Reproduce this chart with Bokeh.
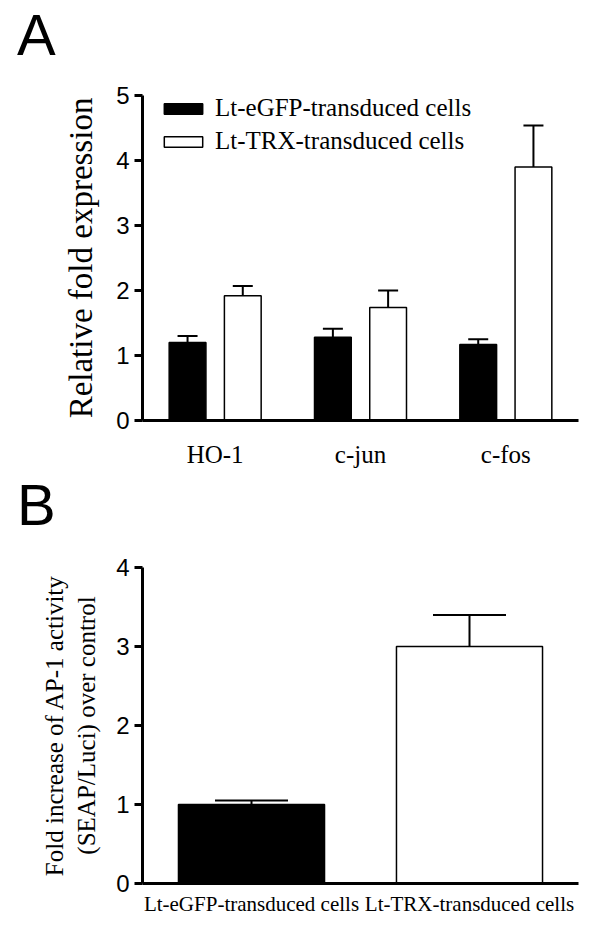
from bokeh.plotting import figure
from bokeh.models import (ColumnDataSource, FactorRange, Range1d, Whisker, TeeHead,
                          Legend, LegendItem, FixedTicker, Div)
from bokeh.transform import dodge
from bokeh.layouts import column
from bokeh.embed import file_html
from bokeh.resources import INLINE

# ---------------- data ----------------
genes = ["HO-1", "c-jun", "c-fos"]
egfp_mean = [1.20, 1.28, 1.17]
egfp_err = [0.10, 0.13, 0.08]
trx_mean = [1.92, 1.74, 3.90]
trx_err = [0.15, 0.26, 0.64]
series_names = ["Lt-eGFP-transduced cells", "Lt-TRX-transduced cells"]

groups_b = ["Lt-eGFP-transduced cells", "Lt-TRX-transduced cells"]
ap1_mean = [1.00, 3.00]
ap1_err = [0.05, 0.40]
fills_b = ["black", "white"]

SERIF = "Liberation Serif"
SANS = "Liberation Sans"


def style_axes(p, tick_size, xlab_size, xstandoff):
    p.xgrid.visible = False
    p.ygrid.visible = False
    p.outline_line_color = None
    for ax in (p.xaxis[0], p.yaxis[0]):
        ax.axis_line_width = 3
        ax.axis_line_color = "black"
        ax.minor_tick_line_color = None
    ya = p.yaxis[0]
    ya.major_tick_line_width = 3
    ya.major_tick_out = 8
    ya.major_tick_in = 0
    ya.major_label_text_font = SANS
    ya.major_label_text_font_size = tick_size
    ya.major_label_text_color = "black"
    ya.major_label_standoff = 5
    ya.axis_label_text_font = SERIF
    ya.axis_label_text_font_style = "normal"
    ya.axis_label_text_color = "black"
    xa = p.xaxis[0]
    xa.major_tick_line_color = None
    xa.major_tick_out = 0
    xa.major_tick_in = 0
    xa.major_label_text_font = SERIF
    xa.major_label_text_font_size = xlab_size
    xa.major_label_text_color = "black"
    xa.major_label_standoff = xstandoff


def panel_letter(letter):
    return Div(text=letter, width=600, height=69, margin=0,
               styles={"font-family": SANS, "font-size": "58px", "line-height": "69px",
                       "color": "black", "padding-left": "17px", "margin": "0"})


# ---------------- panel A ----------------
srcA = ColumnDataSource(dict(
    gene=genes,
    egfp=egfp_mean, egfp_up=[m + e for m, e in zip(egfp_mean, egfp_err)],
    trx=trx_mean, trx_up=[m + e for m, e in zip(trx_mean, trx_err)],
))

pA = figure(width=600, height=401, x_range=FactorRange(*genes, range_padding=0),
            y_range=Range1d(0, 5), output_backend="svg", toolbar_location=None,
            min_border_left=142, min_border_right=8, min_border_top=26,
            min_border_bottom=50)
pA.x_range.range_padding = 0

off = 0.19
bw = 0.253
r1 = pA.vbar(x=dodge("gene", -off, range=pA.x_range), top="egfp", width=bw, source=srcA,
             fill_color="black", line_color="black", line_width=1.5)
r2 = pA.vbar(x=dodge("gene", off, range=pA.x_range), top="trx", width=bw, source=srcA,
             fill_color="white", line_color="black", line_width=1.5)

for key, o in (("egfp", -off), ("trx", off)):
    w = Whisker(base=dodge("gene", o, range=pA.x_range), lower=key, upper=key + "_up",
                source=srcA, line_width=2, line_color="black",
                upper_head=TeeHead(size=20, line_width=2, line_color="black"),
                lower_head=None)
    pA.add_layout(w)

style_axes(pA, "24px", "25px", 20)
pA.yaxis[0].ticker = FixedTicker(ticks=[0, 1, 2, 3, 4, 5])
pA.yaxis[0].axis_label = "Relative fold expression"
pA.yaxis[0].axis_label_text_font_size = "33px"
pA.yaxis[0].axis_label_standoff = 14

legA = Legend(items=[LegendItem(label=series_names[0], renderers=[r1]),
                     LegendItem(label=series_names[1], renderers=[r2])],
              location=(17, 265), padding=0, margin=0, spacing=5,
              glyph_width=48, glyph_height=13, label_height=28, label_standoff=8,
              label_text_font=SERIF, label_text_font_size="25px",
              label_text_color="black", border_line_color=None,
              background_fill_alpha=0)
pA.add_layout(legA, "center")

# ---------------- panel B ----------------
srcB = ColumnDataSource(dict(
    grp=groups_b, val=ap1_mean, up=[m + e for m, e in zip(ap1_mean, ap1_err)], fill=fills_b,
))

pB = figure(width=600, height=392, x_range=FactorRange(*groups_b, range_padding=0),
            y_range=Range1d(0, 4), output_backend="svg", toolbar_location=None,
            min_border_left=142, min_border_right=22, min_border_top=28,
            min_border_bottom=48)
pB.x_range.range_padding = 0
pB.vbar(x="grp", top="val", width=0.67, source=srcB, fill_color="fill",
        line_color="black", line_width=1.5)
pB.add_layout(Whisker(base="grp", lower="val", upper="up", source=srcB,
                      line_width=2, line_color="black",
                      upper_head=TeeHead(size=73, line_width=2, line_color="black"),
                      lower_head=None))

style_axes(pB, "24px", "21px", 8)
pB.yaxis[0].ticker = FixedTicker(ticks=[0, 1, 2, 3, 4])
pB.yaxis[0].axis_label = "Fold increase of AP-1 activity\n(SEAP/Luci) over control"
pB.yaxis[0].axis_label_text_font_size = "25px"
pB.yaxis[0].axis_label_standoff = 13

layout = column(panel_letter("A"), pA, panel_letter("B"), pB, spacing=0)
open("out.html", "w").write(file_html(layout, INLINE))
